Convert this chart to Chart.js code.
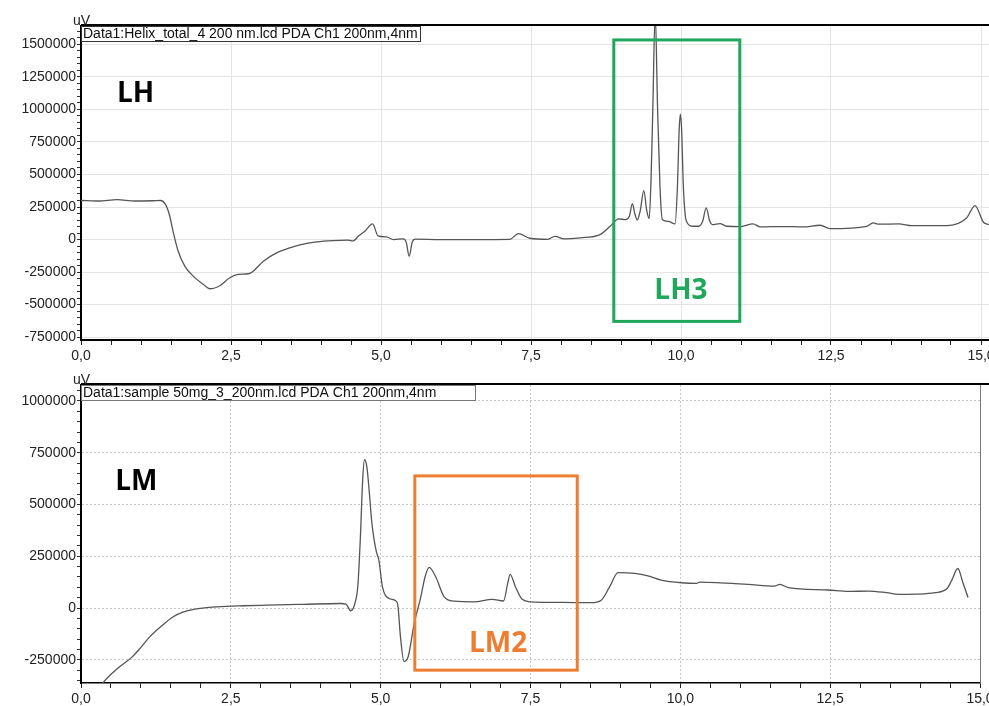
<!DOCTYPE html>
<html>
<head>
<meta charset="utf-8">
<script src="https://cdn.jsdelivr.net/npm/chart.js@4.4.0/dist/chart.umd.min.js"></script>
<style>
html, body { margin: 0; padding: 0; background: #fff; overflow: hidden; width: 989px; height: 706px; }
.painel { position: absolute; left: 0; }
#painelLH { top: 0; width: 1020px; height: 370px; }
#painelLM { top: 370px; width: 995px; height: 336px; }
</style>
</head>
<body>
<div class="painel" id="painelLH"><canvas id="graficoLH"></canvas></div>
<div class="painel" id="painelLM"><canvas id="graficoLM"></canvas></div>
<script>
// Cromatograma LH (tempo em min, sinal em uV)
const tempoLH = [0, 0.3, 0.6, 0.9, 1.2, 1.32, 1.41, 1.48, 1.54, 1.62, 1.73, 1.87, 2.04, 2.15, 2.32, 2.48, 2.62, 2.79, 2.87, 3.04, 3.26, 3.48, 3.65, 3.93, 4.2, 4.45, 4.54, 4.62, 4.73, 4.86, 4.95, 5.09, 5.21, 5.37, 5.42, 5.47, 5.52, 5.57, 6.0, 6.5, 7.15, 7.29, 7.48, 7.78, 7.9, 8.05, 8.32, 8.65, 8.82, 8.96, 9.07, 9.14, 9.19, 9.23, 9.27, 9.32, 9.38, 9.43, 9.47, 9.5, 9.53, 9.57, 9.61, 9.65, 9.69, 9.79, 9.9, 9.94, 9.97, 9.99, 10.01, 10.04, 10.09, 10.2, 10.3, 10.36, 10.42, 10.48, 10.52, 10.65, 10.76, 11.0, 11.2, 11.32, 11.71, 12.04, 12.32, 12.48, 13.1, 13.2, 13.3, 13.63, 13.85, 14.43, 14.76, 14.9, 15.04, 15.13];
const sinalLH = [300000, 296000, 306000, 296000, 298000, 300000, 268000, 179000, 51000, -90000, -204000, -281000, -345000, -378000, -353000, -294000, -268000, -263000, -243000, -166000, -102000, -64000, -41000, -18000, -8000, -5000, -10000, 25000, 64000, 120000, 28000, 20000, 0, 5000, -20000, -128000, -20000, 3000, 0, 0, 2000, 46000, 10000, 2000, 25000, 5000, 13000, 38000, 102000, 159000, 153000, 180000, 276000, 200000, 150000, 220000, 376000, 220000, 161000, 450000, 1000000, 1750000, 1000000, 400000, 153000, 140000, 120000, 400000, 850000, 964000, 850000, 400000, 140000, 102000, 102000, 140000, 243000, 140000, 115000, 123000, 102000, 100000, 120000, 97000, 100000, 97000, 110000, 84000, 102000, 128000, 118000, 120000, 107000, 107000, 166000, 261000, 133000, 115000];

// Cromatograma LM
const tempoLM = [0.3, 0.37, 0.5, 0.65, 0.85, 1.0, 1.15, 1.35, 1.54, 1.7, 1.88, 2.1, 2.27, 2.7, 3.1, 3.7, 4.33, 4.42, 4.5, 4.57, 4.62, 4.66, 4.7, 4.73, 4.77, 4.81, 4.85, 4.89, 4.93, 4.97, 5.03, 5.14, 5.25, 5.29, 5.33, 5.39, 5.46, 5.56, 5.67, 5.74, 5.81, 5.92, 6.06, 6.23, 6.56, 6.86, 7.05, 7.12, 7.16, 7.25, 7.36, 7.5, 8.06, 8.51, 8.68, 8.82, 8.96, 9.24, 9.46, 9.68, 10.02, 10.27, 10.32, 10.6, 11.13, 11.57, 11.66, 11.8, 12.47, 12.8, 13.14, 13.44, 13.64, 13.92, 14.25, 14.45, 14.53, 14.63, 14.71, 14.8];
const sinalLM = [-390000, -360000, -320000, -282000, -237000, -190000, -138000, -85000, -42000, -20000, -6000, 2000, 6000, 11000, 14000, 18000, 22000, 19000, -13000, 22000, 110000, 330000, 620000, 716000, 680000, 560000, 420000, 330000, 270000, 231000, 102000, 46000, 35000, 6000, -138000, -258000, -234000, -74000, 54000, 150000, 196000, 150000, 54000, 33000, 30000, 42000, 34000, 120000, 163000, 102000, 42000, 30000, 27000, 26000, 38000, 102000, 171000, 167000, 155000, 135000, 122000, 119000, 125000, 123000, 114000, 106000, 114000, 99000, 87000, 80000, 82000, 74000, 66000, 67000, 74000, 94000, 135000, 191000, 127000, 51000];

// Limites dos eixos
const eixoLH = { xMax: 15.65, yMin: -772000, yMax: 1641000 };
const eixoLM = { xMax: 15.0, yMin: -362000, yMax: 1077000 };

// Regiões destacadas: [t inicial, t final, y topo, y base]
const regiaoLH3 = [8.88, 10.98, 1534000, -629000];
const regiaoLM2 = [5.57, 8.28, 638000, -300000];

const FONTE = "'Liberation Sans', Arial, sans-serif";

function pontos(ts, vs) {
    return ts.map((t, i) => ({ x: t, y: vs[i] }));
}

function rotuloX(v) {
    return Math.abs(v % 2.5) < 1e-6 ? v.toFixed(1).replace('.', ',') : '';
}

function rotuloY(v) {
    return Math.abs(v % 250000) < 1 ? String(v) : '';
}

// Desenho dos textos, caixas e molduras
const decorPlugin = {
    id: 'decor',
    afterDraw(chart, args, o) {
        const { ctx, chartArea: a, scales: { x, y } } = chart;
        ctx.save();

        // moldura superior
        ctx.strokeStyle = '#000';
        ctx.lineWidth = 2;
        ctx.beginPath();
        ctx.moveTo(a.left, a.top - 1);
        ctx.lineTo(chart.width, a.top - 1);
        ctx.stroke();

        if (o.bordaDireita) {
            ctx.strokeStyle = '#777';
            ctx.lineWidth = 1;
            ctx.beginPath();
            ctx.moveTo(a.right + 0.5, a.top);
            ctx.lineTo(a.right + 0.5, a.bottom);
            ctx.stroke();
        }

        // unidade
        ctx.fillStyle = '#222';
        ctx.font = '14px ' + FONTE;
        ctx.textAlign = 'left';
        ctx.textBaseline = 'alphabetic';
        ctx.fillText('uV', 73, a.top - 1);

        // caixa com nome do arquivo
        ctx.fillStyle = '#fff';
        ctx.fillRect(a.left + 1, a.top, o.caixaLarg, 15);
        ctx.strokeStyle = o.corCaixa;
        ctx.lineWidth = 1;
        ctx.strokeRect(a.left + 0.5, a.top + 0.5, o.caixaLarg, 15);
        ctx.fillStyle = '#111';
        ctx.font = '14px ' + FONTE;
        ctx.fillText(o.arquivo, a.left + 2, a.top + 12);

        // nome da amostra
        ctx.fillStyle = '#000';
        ctx.font = "bold 28px 'Open Sans', sans-serif";
        ctx.fillText(o.amostra[0], x.getPixelForValue(o.amostra[1]), y.getPixelForValue(o.amostra[2]));

        // região destacada
        const r = o.regiao;
        const x1 = x.getPixelForValue(r[0]), x2 = x.getPixelForValue(r[1]);
        const y1 = y.getPixelForValue(r[2]), y2 = y.getPixelForValue(r[3]);
        ctx.strokeStyle = o.cor;
        ctx.lineWidth = 3;
        ctx.strokeRect(x1, y1, x2 - x1, y2 - y1);
        ctx.fillStyle = o.cor;
        ctx.textAlign = 'center';
        ctx.fillText(o.rotulo[0], x.getPixelForValue(o.rotulo[1]), y.getPixelForValue(o.rotulo[2]));

        ctx.restore();
    }
};

function criarGrafico(id, ts, vs, eixo, cfg) {
    const tracejado = cfg.tracejado ? [2, 2] : [];
    return new Chart(document.getElementById(id), {
        type: 'scatter',
        data: {
            datasets: [{
                data: pontos(ts, vs),
                showLine: true,
                borderColor: '#555',
                borderWidth: 1.3,
                pointRadius: 0,
                cubicInterpolationMode: 'monotone'
            }]
        },
        options: {
            responsive: true,
            maintainAspectRatio: false,
            animation: false,
            events: [],
            layout: { padding: { top: cfg.topo, left: 0, right: cfg.direita, bottom: 0 } },
            plugins: { legend: { display: false }, tooltip: { enabled: false }, decor: cfg.decor },
            scales: {
                x: {
                    type: 'linear',
                    min: 0,
                    max: eixo.xMax,
                    afterBuildTicks: (s) => {
                        const t = [];
                        for (let i = 0; i * 0.5 <= s.max + 1e-9; i++) t.push({ value: i * 0.5 });
                        s.ticks = t;
                    },
                    afterFit: (s) => { s.height = cfg.alturaX; s.paddingLeft = 0; s.paddingRight = 0; },
                    ticks: {
                        autoSkip: false,
                        maxRotation: 0,
                        padding: 3,
                        color: '#222',
                        font: { family: FONTE, size: 14 },
                        callback: rotuloX
                    },
                    grid: {
                        color: (c) => rotuloX(c.tick.value) && c.tick.value > 0 ? cfg.corGrade : 'transparent',
                        tickColor: '#222',
                        tickLength: 5
                    },
                    border: { display: true, color: '#000', width: cfg.larguraEixo, dash: tracejado }
                },
                y: {
                    type: 'linear',
                    min: eixo.yMin,
                    max: eixo.yMax,
                    afterBuildTicks: (s) => {
                        const t = [];
                        for (let v = Math.ceil(s.min / 50000) * 50000; v <= s.max; v += 50000) t.push({ value: v });
                        s.ticks = t;
                    },
                    afterFit: (s) => { s.width = 81; s.paddingTop = 0; s.paddingBottom = 0; },
                    ticks: {
                        autoSkip: false,
                        padding: 1,
                        color: '#222',
                        font: { family: FONTE, size: 14 },
                        callback: rotuloY
                    },
                    grid: {
                        color: (c) => rotuloY(c.tick.value) ? cfg.corGrade : 'transparent',
                        tickColor: '#333',
                        tickLength: 4
                    },
                    border: { display: true, color: '#000', width: 2, dash: tracejado }
                }
            }
        },
        plugins: [decorPlugin]
    });
}

criarGrafico('graficoLH', tempoLH, sinalLH, eixoLH, {
    topo: 26, direita: 0, alturaX: 30, corGrade: '#e4e4e4', tracejado: false, larguraEixo: 2,
    decor: {
        arquivo: 'Data1:Helix_total_4 200 nm.lcd PDA Ch1 200nm,4nm',
        caixaLarg: 339, corCaixa: '#333',
        amostra: ['LH', 0.6, 1058000],
        rotulo: ['LH3', 10.0, -460000],
        regiao: regiaoLH3,
        cor: '#1fa75b',
        bordaDireita: false
    }
});

criarGrafico('graficoLM', tempoLM, sinalLM, eixoLM, {
    topo: 15, direita: 15, alturaX: 23, corGrade: '#c8c8c8', tracejado: true, larguraEixo: 1.5,
    decor: {
        arquivo: 'Data1:sample 50mg_3_200nm.lcd PDA Ch1 200nm,4nm',
        caixaLarg: 394, corCaixa: '#777',
        amostra: ['LM', 0.57, 570000],
        rotulo: ['LM2', 6.96, -212000],
        regiao: regiaoLM2,
        cor: '#ed7d31',
        bordaDireita: true
    }
});
</script>
</body>
</html>
